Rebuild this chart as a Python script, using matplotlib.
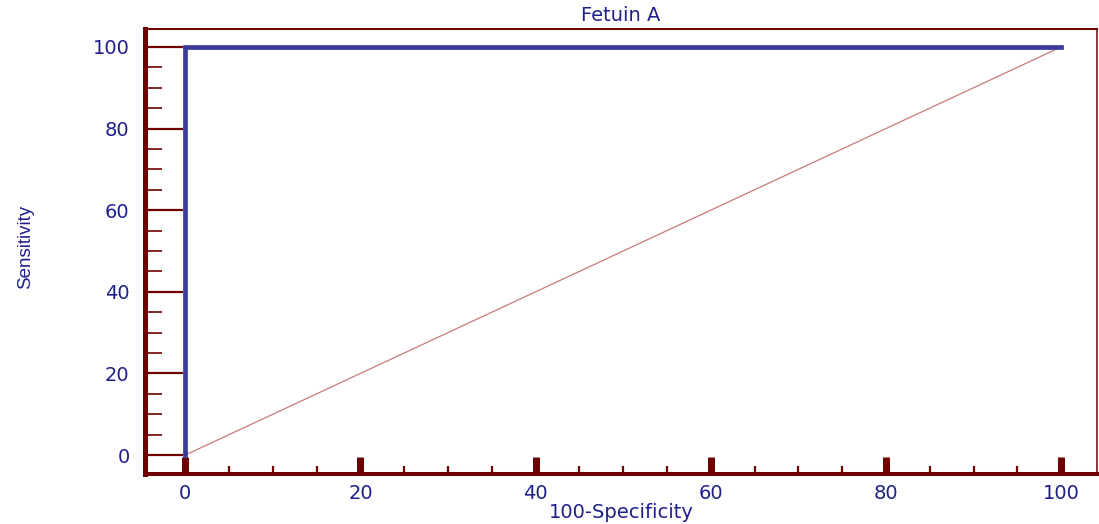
import matplotlib
matplotlib.use("Agg")
import matplotlib.pyplot as plt
import numpy as np

# ROC curve points (100-Specificity, Sensitivity)
roc_x = [0, 0, 100]
roc_y = [0, 100, 100]
diag_x = [0, 100]
diag_y = [0, 100]

x_major = [0, 20, 40, 60, 80, 100]
y_major = [0, 20, 40, 60, 80, 100]

axis_col = "#6e0000"
text_col = "#1e1e8c"

plt.rcParams['font.family'] = ['DejaVu Sans']

fig = plt.figure(figsize=(10.99, 5.24), dpi=100)
ax = fig.add_axes([145/1099, 1 - 474/524, (1097-145)/1099, (474-29)/524])

ax.plot(diag_x, diag_y, color="#c87a7a", lw=0.9, zorder=2)
ax.plot(roc_x, roc_y, color="#3b3b9b", lw=3.4, solid_joinstyle="miter", zorder=3)

ax.set_xlim(-4.6, 104.1)
ax.set_ylim(-4.65, 104.4)

for side, w in [("left", 3.6), ("bottom", 2.9), ("top", 1.5), ("right", 1.1)]:
    ax.spines[side].set_color(axis_col)
    ax.spines[side].set_linewidth(w)

ax.set_xticks(x_major)
ax.set_xticks(np.arange(0, 101, 5), minor=True)
ax.set_yticks(y_major)
ax.set_yticks(np.arange(0, 101, 5), minor=True)

ax.tick_params(axis="x", which="major", direction="in", length=12, width=5,
               color=axis_col, labelcolor=text_col, labelsize=14, pad=7)
ax.tick_params(axis="x", which="minor", direction="in", length=6, width=1.6,
               color=axis_col)
ax.tick_params(axis="y", which="major", direction="in", length=27, width=1.6,
               color=axis_col, labelcolor=text_col, labelsize=14, pad=11)
ax.tick_params(axis="y", which="minor", direction="in", length=12, width=1.2,
               color=axis_col)
ax.tick_params(top=False, right=False, which="both")

ax.set_title("Fetuin A", color=text_col, fontsize=14, pad=6)
ax.set_xlabel("100-Specificity", color=text_col, fontsize=14, labelpad=0)
ax.set_ylabel("Sensitivity", color=text_col, fontsize=13.5,
              family=['Liberation Sans', 'DejaVu Sans'])
ax.yaxis.label.set_va("center")
ax.yaxis.set_label_coords(-0.125, 0.51)

fig.savefig("out.png", dpi=100)
